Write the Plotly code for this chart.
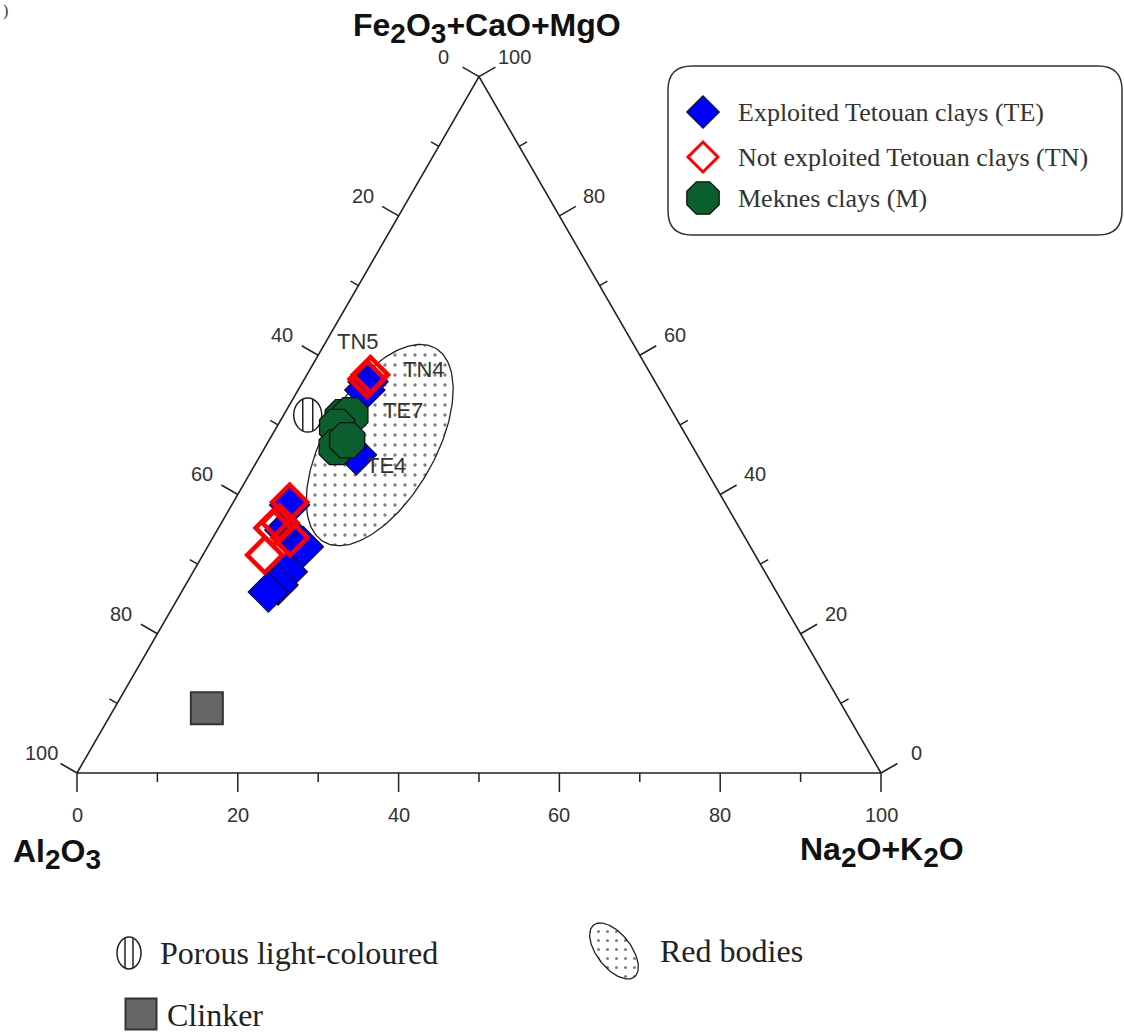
import numpy as np
import plotly.graph_objects as go

W, H = 1124, 1036

# ---------------- data (composition in %) ----------------
# Exploited Tetouan clays (TE)
te_fe = [56.2, 55.0, 45.7, 38.5, 34.9, 33.5, 32.5, 28.9, 27.0, 26.0]
te_al = [35.7, 36.7, 42.4, 54.3, 56.7, 56.1, 55.6, 59.4, 61.5, 63.2]
te_na = [8.1, 8.3, 11.9, 7.2, 8.4, 10.4, 11.9, 11.7, 11.5, 10.8]
te_labels = ["", "TE7", "TE4", "", "", "", "", "", "", ""]

# Not exploited Tetouan clays (TN)
tn_fe = [57.2, 56.6, 38.9, 35.9, 35.2, 33.8, 31.3]
tn_al = [34.9, 35.6, 54.1, 56.8, 58.0, 56.6, 61.0]
tn_na = [7.9, 7.8, 7.0, 7.3, 6.8, 9.6, 7.7]
tn_labels = ["TN4", "TN5", "", "", "", "", ""]

# Meknes clays (M)
m_fe = [51.1, 51.4, 49.7, 46.8, 47.8]
m_al = [41.4, 40.3, 42.8, 44.3, 42.5]
m_na = [7.5, 8.3, 7.5, 8.9, 9.7]

# reference products
porous_fe, porous_al, porous_na = [51.4], [45.6], [3.0]
clinker_fe, clinker_al, clinker_na = [9.3], [79.2], [11.5]

# "Red bodies" field (ellipse): centre composition, semi-axes (% units), tilt
red_center_fe, red_center_al, red_center_na = 47.1, 38.8, 14.1
red_semi_major, red_semi_minor, red_tilt_deg = 13.9, 6.85, 60

tick_values = list(range(0, 101, 10))
tick_labels = {0: "0", 20: "20", 40: "40", 60: "60", 80: "80", 100: "100"}

legend_items = ["Exploited Tetouan clays (TE)",
                "Not exploited Tetouan clays (TN)",
                "Meknes clays (M)"]

# ---------------- helpers ----------------
SQ3 = np.sqrt(3) / 2
PX0, PY0, SCALE = 77, 773, 8.04   # pixel position of Al2O3 corner, px per % unit


def tern(fe, al, na):
    fe = np.asarray(fe, float)
    al = np.asarray(al, float)
    na = np.asarray(na, float)
    s = fe + al + na
    fe, na = 100 * fe / s, 100 * na / s
    return na + fe / 2, fe * SQ3


def px(n):  # pixels -> data units
    return n / SCALE


def sub(d):
    return f'<sub><span style="font-size:28px">{d}</span></sub>'


fig = go.Figure()

# Red bodies ellipse
cx, cy = tern([red_center_fe], [red_center_al], [red_center_na])
t = np.linspace(0, 2 * np.pi, 200)
th = np.radians(red_tilt_deg)
u, v = red_semi_major * np.cos(t), red_semi_minor * np.sin(t)
ex = cx[0] + u * np.cos(th) - v * np.sin(th)
ey = cy[0] + u * np.sin(th) + v * np.cos(th)
fig.add_trace(go.Scatter(
    x=ex, y=ey, mode="lines", fill="toself",
    fillpattern=dict(shape=".", size=10, solidity=0.09, fgcolor="#000000", bgcolor="white"),
    line=dict(color="#222222", width=1.3), hoverinfo="skip"))

# Triangle frame
tri_x, tri_y = tern([0, 0, 100, 0], [100, 0, 0, 100], [0, 100, 0, 0])
fig.add_trace(go.Scatter(x=tri_x, y=tri_y, mode="lines",
                         line=dict(color="#222222", width=1.6), hoverinfo="skip"))

# Ticks and tick labels
tkx, tky = [], []
annotations = []
lab_font = dict(family="Liberation Sans, Arial", size=20, color="#333333")
for val in tick_values:
    L = px(19) if val % 20 == 0 else px(9)
    # bottom axis: Na2O+K2O
    bx, by = tern([0], [100 - val], [val])
    tkx += [bx[0], bx[0], None]
    tky += [by[0], by[0] - L, None]
    # left axis: Al2O3
    lx, ly = tern([100 - val], [val], [0])
    tkx += [lx[0], lx[0] - SQ3 * L, None]
    tky += [ly[0], ly[0] + 0.5 * L, None]
    # right axis: Fe2O3+CaO+MgO
    rx, ry = tern([val], [0], [100 - val])
    tkx += [rx[0], rx[0] + SQ3 * L, None]
    tky += [ry[0], ry[0] + 0.5 * L, None]
    if val in tick_labels:
        txt = tick_labels[val]
        annotations.append(dict(x=bx[0], y=by[0], text=txt, showarrow=False,
                                yshift=-42, font=lab_font))
        annotations.append(dict(x=lx[0], y=ly[0], text=txt, showarrow=False,
                                xshift=-36, yshift=20, font=lab_font))
        annotations.append(dict(x=rx[0], y=ry[0], text=txt, showarrow=False,
                                xshift=35, yshift=20, font=lab_font))
fig.add_trace(go.Scatter(x=tkx, y=tky, mode="lines",
                         line=dict(color="#222222", width=1.5), hoverinfo="skip"))

# TE
x, y = tern(te_fe, te_al, te_na)
fig.add_trace(go.Scatter(x=x, y=y, mode="markers",
                         marker=dict(symbol="diamond", size=31, color="#0000FF", opacity=1,
                                     line=dict(color="#101030", width=1.2)),
                         hoverinfo="skip"))
te_xy = (x, y)
# TN
x, y = tern(tn_fe, tn_al, tn_na)
fig.add_trace(go.Scatter(x=x, y=y, mode="markers",
                         marker=dict(symbol="diamond", size=27, color="rgba(0,0,0,0)", opacity=1,
                                     line=dict(color="#FF0000", width=4.5)),
                         hoverinfo="skip"))
tn_xy = (x, y)

# Porous (drawn as shapes anchored at its data point)
shapes = []
pxp, pyp = tern(porous_fe, porous_al, porous_na)
shapes.append(dict(type="circle", xref="x", yref="y", xsizemode="pixel", ysizemode="pixel",
                   xanchor=pxp[0], yanchor=pyp[0], x0=-14, x1=14, y0=-17, y1=17,
                   fillcolor="white", line=dict(color="#222222", width=1.5), layer="below"))
for off in (-5, 5):
    shapes.append(dict(type="line", xref="x", yref="y", xsizemode="pixel", ysizemode="pixel",
                       xanchor=pxp[0], yanchor=pyp[0], x0=off, x1=off, y0=-16, y1=16,
                       line=dict(color="#222222", width=1.5), layer="below"))

# Meknes
x, y = tern(m_fe, m_al, m_na)
fig.add_trace(go.Scatter(x=x, y=y, mode="markers",
                         marker=dict(symbol="octagon", size=38, color="#0B5E2E", opacity=1,
                                     line=dict(color="#111111", width=1.3)),
                         hoverinfo="skip"))

# Clinker
x, y = tern(clinker_fe, clinker_al, clinker_na)
fig.add_trace(go.Scatter(x=x, y=y, mode="markers",
                         marker=dict(symbol="square", size=32, color="#666666", opacity=1,
                                     line=dict(color="#333333", width=2)),
                         hoverinfo="skip"))

# sample labels
label_font = dict(family="Liberation Sans, Arial", size=22, color="#333333")
label_offsets = {"TN5": (-9, 37), "TN4": (54, 5), "TE7": (38, -20), "TE4": (30, -11)}
for labs, (xx, yy) in ((te_labels, te_xy), (tn_labels, tn_xy)):
    for lab, xi, yi in zip(labs, xx, yy):
        if lab:
            dx, dy = label_offsets[lab]
            annotations.append(dict(x=xi, y=yi, text=lab, showarrow=False,
                                    xshift=dx, yshift=dy, font=label_font))

# ---------------- axis titles ----------------
title_font = dict(family="Liberation Sans, Arial", size=32, color="#111111")
annotations += [
    dict(xref="x2", yref="y2", x=487, y=28,
         text=f"<b>Fe{sub(2)}O{sub(3)}+CaO+MgO</b>",
         showarrow=False, font=title_font, xanchor="center", yanchor="middle"),
    dict(xref="x2", yref="y2", x=11, y=854, text=f"<b>Al{sub(2)}O{sub(3)}</b>",
         showarrow=False, font=title_font, xanchor="left", yanchor="middle"),
    dict(xref="x2", yref="y2", x=882, y=852, text=f"<b>Na{sub(2)}O+K{sub(2)}O</b>",
         showarrow=False, font=title_font, xanchor="center", yanchor="middle"),
    dict(xref="x2", yref="y2", x=1, y=11, text=")", showarrow=False, xanchor="left",
         yanchor="middle", font=dict(family="Liberation Serif", size=16, color="#333333")),
]

# ---------------- legend box (pixel overlay axes) ----------------
x0, y0, x1, y1, r = 668, 66, 1122, 235, 24
shapes.append(dict(type="path", xref="x2", yref="y2",
                   path=(f"M {x0+r},{y0} L {x1-r},{y0} Q {x1},{y0} {x1},{y0+r} "
                         f"L {x1},{y1-r} Q {x1},{y1} {x1-r},{y1} L {x0+r},{y1} "
                         f"Q {x0},{y1} {x0},{y1-r} L {x0},{y0+r} Q {x0},{y0} {x0+r},{y0} Z"),
                   line=dict(color="#333333", width=1.5), fillcolor="rgba(0,0,0,0)"))
leg_y = [112, 157, 198]
fig.add_trace(go.Scatter(
    x=[703, 703, 703], y=leg_y, xaxis="x2", yaxis="y2", mode="markers",
    marker=dict(symbol=["diamond", "diamond", "octagon"], size=[25, 23, 35], opacity=1,
                color=["#0000FF", "white", "#0B5E2E"],
                line=dict(color=["#101030", "#FF0000", "#111111"], width=[1.2, 3, 1.3])),
    hoverinfo="skip"))
leg_font = dict(family="Liberation Serif, Times New Roman", size=26, color="#333333")
for txt, yy in zip(legend_items, leg_y):
    annotations.append(dict(xref="x2", yref="y2", x=736, y=yy, text=txt, showarrow=False,
                            xanchor="left", yanchor="middle", font=leg_font))

# ---------------- lower key ----------------
key_font = dict(family="Liberation Serif, Times New Roman", size=32, color="#222222")
shapes.append(dict(type="circle", xref="x2", yref="y2", x0=117, x1=141, y0=937, y1=969,
                   fillcolor="white", line=dict(color="#222222", width=1.5)))
for xx in (125, 133):
    shapes.append(dict(type="line", xref="x2", yref="y2", x0=xx, x1=xx, y0=938, y1=968,
                       line=dict(color="#222222", width=1.5)))
annotations.append(dict(xref="x2", yref="y2", x=158, y=953, text="Porous light-coloured",
                        showarrow=False, xanchor="left", yanchor="middle", font=key_font))

t2 = np.linspace(0, 2 * np.pi, 120)
th2 = np.radians(52)
u2, v2 = 33 * np.cos(t2), 17 * np.sin(t2)
fig.add_trace(go.Scatter(
    x=614 + u2 * np.cos(th2) - v2 * np.sin(th2),
    y=951 + u2 * np.sin(th2) + v2 * np.cos(th2),
    xaxis="x2", yaxis="y2", mode="lines", fill="toself",
    fillpattern=dict(shape=".", size=9, solidity=0.09, fgcolor="#000000", bgcolor="white"),
    line=dict(color="#222222", width=1.3), hoverinfo="skip"))
annotations.append(dict(xref="x2", yref="y2", x=658, y=951, text="Red bodies",
                        showarrow=False, xanchor="left", yanchor="middle", font=key_font))

fig.add_trace(go.Scatter(x=[141], y=[1014], xaxis="x2", yaxis="y2", mode="markers",
                         marker=dict(symbol="square", size=31, color="#666666", opacity=1,
                                     line=dict(color="#333333", width=2)),
                         hoverinfo="skip"))
annotations.append(dict(xref="x2", yref="y2", x=165, y=1015, text="Clinker",
                        showarrow=False, xanchor="left", yanchor="middle", font=key_font))

fig.update_layout(
    width=W, height=H, margin=dict(l=0, r=0, t=0, b=0),
    paper_bgcolor="white", plot_bgcolor="white", showlegend=False, hovermode=False,
    xaxis=dict(range=[-PX0 / SCALE, (W - PX0) / SCALE], visible=False, fixedrange=True),
    yaxis=dict(range=[(PY0 - H) / SCALE, PY0 / SCALE], visible=False, fixedrange=True),
    xaxis2=dict(range=[0, W], overlaying="x", visible=False, fixedrange=True),
    yaxis2=dict(range=[H, 0], overlaying="y", visible=False, fixedrange=True),
    shapes=shapes, annotations=annotations,
)

fig.write_html("out.html")
